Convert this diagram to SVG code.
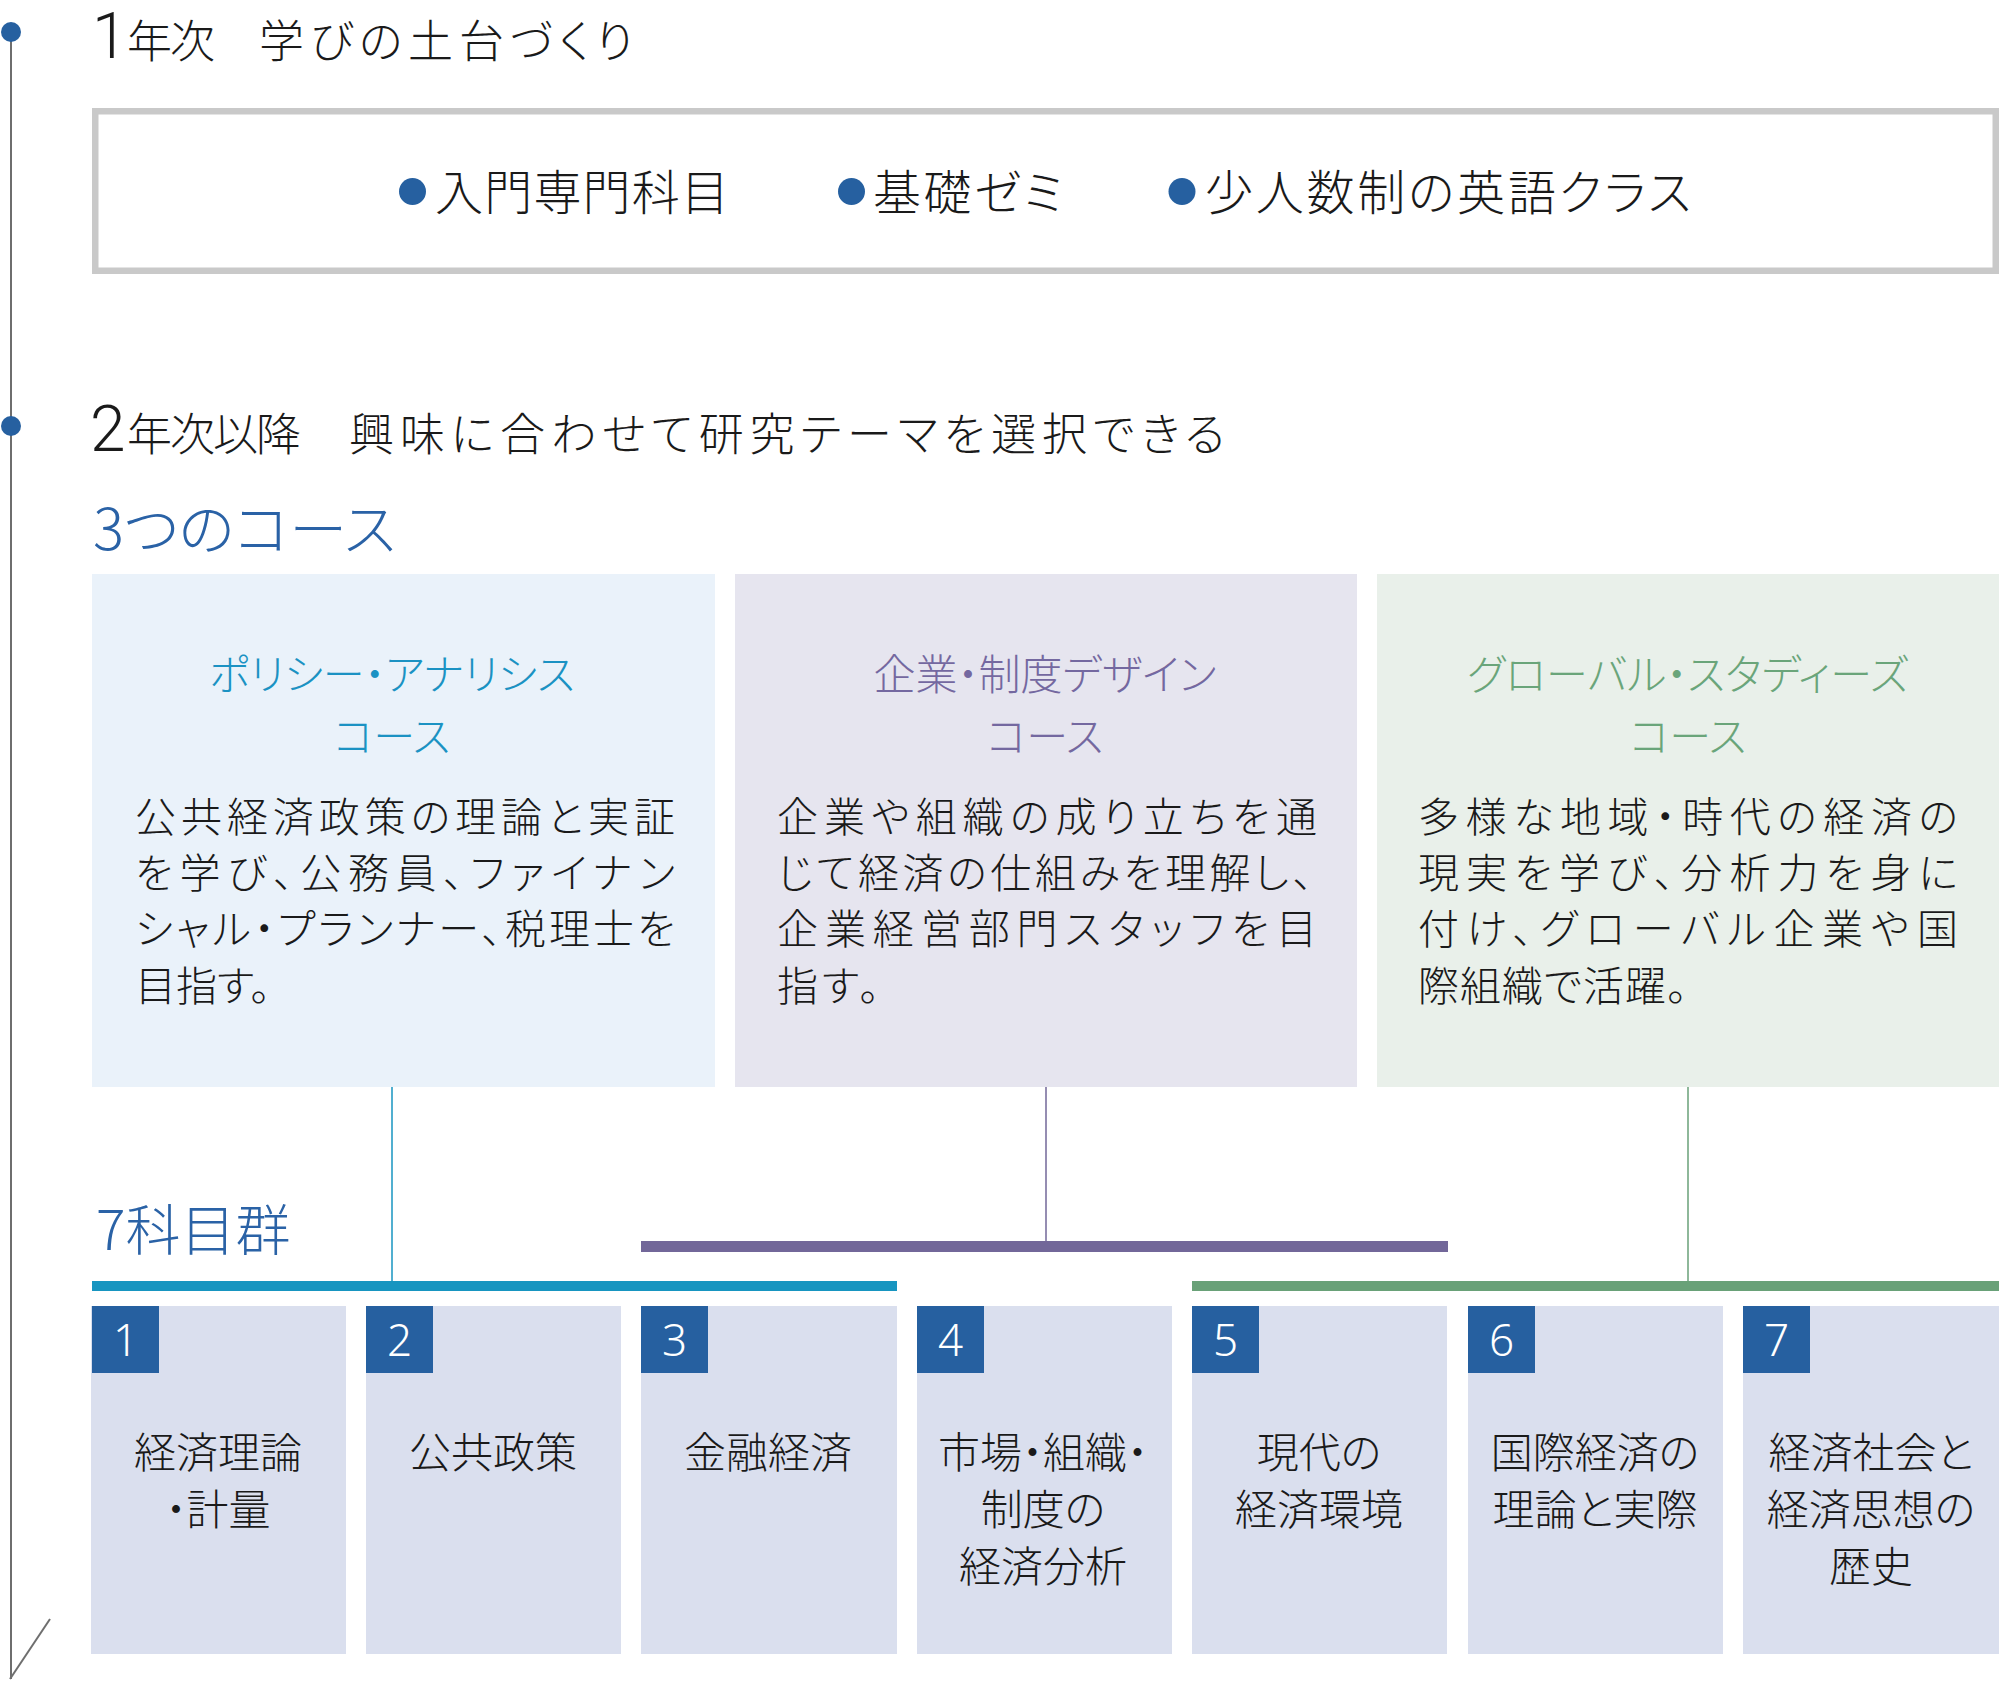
<svg xmlns="http://www.w3.org/2000/svg" width="2000" height="1682" viewBox="0 0 2000 1682">
<style>
text{font-family:"Noto Sans CJK JP","Noto Sans",sans-serif;fill:#1a1a1a;font-feature-settings:"palt";font-weight:300;}
.h{font-size:45px;}
.big{font-size:64px;font-family:Roboto,"Liberation Sans",sans-serif;font-weight:300;}
.blue{fill:#2a62a6;}
.bul{font-size:48px;}
.ct{font-size:42px;text-anchor:middle;}
.ct1{fill:#1b92c3;}
.ct2{fill:#7468a0;}
.ct3{fill:#6aa57a;}
.body{font-size:41px;}
.sub{font-size:42px;text-anchor:middle;}
.num{font-size:44px;fill:#ffffff;text-anchor:middle;font-family:"Noto Sans","Noto Sans CJK JP",sans-serif;}
.sbox{fill:#dadfee;}
.nbox{fill:#2660a0;}
</style>

<g id="timeline">
<line x1="11" y1="32" x2="11" y2="1679" stroke="#6e6e6e" stroke-width="2"/>
<line x1="10" y1="1679" x2="50" y2="1619" stroke="#6e6e6e" stroke-width="2"/>
<circle cx="11" cy="32" r="10" fill="#2660a0"/>
<circle cx="11" cy="426" r="10" fill="#2660a0"/>
</g>

<g id="year1-title">
<text class="big" x="92" y="58">1</text>
<text class="h" x="127" y="58" textLength="88" lengthAdjust="spacing">年次</text>
<text class="h" x="259" y="58" textLength="374" lengthAdjust="spacing">学びの土台づくり</text>
</g>

<g id="year1-box">
<rect x="95.25" y="111.25" width="1900.5" height="159.5" fill="#ffffff" stroke="#c9c9c9" stroke-width="6.5"/>
<circle cx="412.5" cy="191.5" r="13.5" fill="#2660a0"/>
<text class="bul" x="435" y="210" textLength="294" lengthAdjust="spacing">入門専門科目</text>
<circle cx="851.5" cy="191.5" r="13.5" fill="#2660a0"/>
<text class="bul" x="873" y="210" textLength="190" lengthAdjust="spacing">基礎ゼミ</text>
<circle cx="1182" cy="191.5" r="13.5" fill="#2660a0"/>
<text class="bul" x="1205" y="210" textLength="486" lengthAdjust="spacing">少人数制の英語クラス</text>
</g>

<g id="year2-title">
<text class="big" x="90" y="451">2</text>
<text class="h" x="127" y="451" textLength="174" lengthAdjust="spacing">年次以降</text>
<text class="h" x="349" y="451" textLength="876" lengthAdjust="spacing">興味に合わせて研究テーマを選択できる</text>
</g>

<g id="courses-heading">
<text class="blue" x="93" y="550" font-size="57" textLength="303" lengthAdjust="spacingAndGlyphs">3つのコース</text>
</g>

<g id="course-policy">
<rect x="92" y="574" width="623" height="513" fill="#eaf2fa"/>
<text class="ct ct1" x="392" y="690">ポリシー・アナリシス</text>
<text class="ct ct1" x="392" y="752">コース</text>
<text class="body" x="135" y="832" textLength="540" lengthAdjust="spacing">公共経済政策の理論と実証</text>
<text class="body" x="135" y="888" textLength="540" lengthAdjust="spacing">を学び、公務員、ファイナン</text>
<text class="body" x="135" y="944" textLength="540" lengthAdjust="spacing">シャル・プランナー、税理士を</text>
<text class="body" x="135" y="1001">目指す。</text>
</g>

<g id="course-design">
<rect x="735" y="574" width="622" height="513" fill="#e6e5ef"/>
<text class="ct ct2" x="1045" y="690">企業・制度デザイン</text>
<text class="ct ct2" x="1045" y="752">コース</text>
<text class="body" x="777" y="832" textLength="540" lengthAdjust="spacing">企業や組織の成り立ちを通</text>
<text class="body" x="777" y="888" textLength="536" lengthAdjust="spacing">じて経済の仕組みを理解し、</text>
<text class="body" x="777" y="944" textLength="540" lengthAdjust="spacing">企業経営部門スタッフを目</text>
<text class="body" x="777" y="1001" letter-spacing="4">指す。</text>
</g>

<g id="course-global">
<rect x="1377" y="574" width="622" height="513" fill="#e9f0ea"/>
<text class="ct ct3" x="1688" y="690">グローバル・スタディーズ</text>
<text class="ct ct3" x="1688" y="752">コース</text>
<text class="body" x="1418" y="832" textLength="540" lengthAdjust="spacing">多様な地域・時代の経済の</text>
<text class="body" x="1418" y="888" textLength="540" lengthAdjust="spacing">現実を学び、分析力を身に</text>
<text class="body" x="1418" y="944" textLength="540" lengthAdjust="spacing">付け、グローバル企業や国</text>
<text class="body" x="1418" y="1001" letter-spacing="1">際組織で活躍。</text>
</g>

<g id="subjects-heading">
<text class="blue" x="96" y="1250" font-size="55">7科目群</text>
</g>

<g id="connectors">
<line x1="392" y1="1087" x2="392" y2="1281" stroke="#1795c0" stroke-width="1.5"/>
<line x1="1046" y1="1087" x2="1046" y2="1241" stroke="#726799" stroke-width="1.5"/>
<line x1="1688" y1="1087" x2="1688" y2="1281" stroke="#69a178" stroke-width="1.5"/>
<rect x="92" y="1281" width="805" height="10" fill="#1795c0"/>
<rect x="641" y="1241" width="807" height="11" fill="#726799"/>
<rect x="1192" y="1281" width="807" height="10" fill="#69a178"/>
</g>

<g id="subject-1">
<rect class="sbox" x="91" y="1306" width="255" height="348"/>
<rect class="nbox" x="92" y="1306" width="67" height="67"/>
<text class="num" x="125.5" y="1356">1</text>
<text class="sub" x="218" y="1468">経済理論</text>
<text class="sub" x="218" y="1525">・計量</text>
</g>
<g id="subject-2">
<rect class="sbox" x="366" y="1306" width="255" height="348"/>
<rect class="nbox" x="366" y="1306" width="67" height="67"/>
<text class="num" x="399.5" y="1356">2</text>
<text class="sub" x="493" y="1468">公共政策</text>
</g>
<g id="subject-3">
<rect class="sbox" x="641" y="1306" width="256" height="348"/>
<rect class="nbox" x="641" y="1306" width="67" height="67"/>
<text class="num" x="674.5" y="1356">3</text>
<text class="sub" x="768" y="1468">金融経済</text>
</g>
<g id="subject-4">
<rect class="sbox" x="917" y="1306" width="255" height="348"/>
<rect class="nbox" x="917" y="1306" width="67" height="67"/>
<text class="num" x="950.5" y="1356">4</text>
<text class="sub" x="1043" y="1468">市場・組織・</text>
<text class="sub" x="1043" y="1525">制度の</text>
<text class="sub" x="1043" y="1582">経済分析</text>
</g>
<g id="subject-5">
<rect class="sbox" x="1192" y="1306" width="255" height="348"/>
<rect class="nbox" x="1192" y="1306" width="67" height="67"/>
<text class="num" x="1225.5" y="1356">5</text>
<text class="sub" x="1319" y="1468">現代の</text>
<text class="sub" x="1319" y="1525">経済環境</text>
</g>
<g id="subject-6">
<rect class="sbox" x="1468" y="1306" width="255" height="348"/>
<rect class="nbox" x="1468" y="1306" width="67" height="67"/>
<text class="num" x="1501.5" y="1356">6</text>
<text class="sub" x="1595" y="1468">国際経済の</text>
<text class="sub" x="1595" y="1525">理論と実際</text>
</g>
<g id="subject-7">
<rect class="sbox" x="1743" y="1306" width="256" height="348"/>
<rect class="nbox" x="1743" y="1306" width="67" height="67"/>
<text class="num" x="1776.5" y="1356">7</text>
<text class="sub" x="1871" y="1468">経済社会と</text>
<text class="sub" x="1871" y="1525">経済思想の</text>
<text class="sub" x="1871" y="1582">歴史</text>
</g>
</svg>
